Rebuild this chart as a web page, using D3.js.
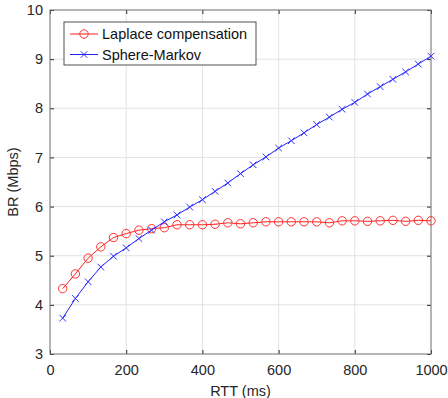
<!DOCTYPE html>
<html>
<head>
<meta charset="utf-8">
<script src="https://cdn.jsdelivr.net/npm/d3@7"></script>
<style>
  body { margin: 0; background: #fff; }
  svg { display: block; font-family: "Liberation Sans", Arial, sans-serif; }
</style>
</head>
<body>
<div id="chart"></div>
<script>
// RTT samples (ms) every 33.3 ms
const rtt = d3.range(1, 31).map(i => i * 1000 / 30);
const laplace = [4.33, 4.63, 4.95, 5.18, 5.37, 5.45, 5.52, 5.55, 5.57, 5.63,
  5.63, 5.63, 5.64, 5.67, 5.65, 5.67, 5.69, 5.69, 5.69, 5.69,
  5.69, 5.67, 5.71, 5.71, 5.70, 5.71, 5.72, 5.70, 5.72, 5.71];
const sphere = [3.73, 4.13, 4.47, 4.77, 4.99, 5.16, 5.35, 5.52, 5.69, 5.83,
  5.99, 6.14, 6.31, 6.48, 6.67, 6.85, 7.01, 7.19, 7.34, 7.50,
  7.67, 7.82, 7.98, 8.12, 8.29, 8.44, 8.59, 8.74, 8.90, 9.06];
const xTicks = [0, 200, 400, 600, 800, 1000];
const yTicks = [3, 4, 5, 6, 7, 8, 9, 10];
const seriesNames = ["Laplace compensation", "Sphere-Markov"];

const W = 448, H = 398;
const margin = { top: 10, right: 17, bottom: 44, left: 50 };
const width = W - margin.left - margin.right,
  height = H - margin.top - margin.bottom;
const fs = "14.5px";

const svg = d3.select("#chart").append("svg").attr("width", W).attr("height", H);
const g = svg.append("g").attr("transform", "translate(" + margin.left + "," + margin.top + ")");

const x = d3.scaleLinear().domain([0, 1000]).range([0, width]);
const y = d3.scaleLinear().domain([3, 10]).range([height, 0]);

// grid
g.selectAll(".gx").data(xTicks).enter().append("line")
  .attr("x1", d => x(d)).attr("x2", d => x(d)).attr("y1", 0).attr("y2", height)
  .attr("stroke", "#e3e3e3").attr("stroke-width", 1);
g.selectAll(".gy").data(yTicks).enter().append("line")
  .attr("y1", d => y(d)).attr("y2", d => y(d)).attr("x1", 0).attr("x2", width)
  .attr("stroke", "#e3e3e3").attr("stroke-width", 1);

// axes, ticks inward like matlab
const axisColor = "#262626";
const fmt = d3.format("d");
function styleAxis(sel) {
  sel.select(".domain").remove();
  sel.selectAll(".tick line").attr("stroke", axisColor);
  sel.selectAll(".tick text").attr("fill", axisColor).style("font-size", fs);
}
g.append("g").attr("transform", "translate(0," + height + ")")
  .call(d3.axisBottom(x).tickValues(xTicks).tickFormat(fmt).tickSizeInner(-4).tickSizeOuter(0).tickPadding(11))
  .call(styleAxis);
g.append("g")
  .call(d3.axisTop(x).tickValues(xTicks).tickSizeInner(-4).tickSizeOuter(0).tickFormat(""))
  .call(styleAxis);
g.append("g")
  .call(d3.axisLeft(y).tickValues(yTicks).tickFormat(fmt).tickSizeInner(-4).tickSizeOuter(0).tickPadding(7))
  .call(styleAxis);
g.append("g").attr("transform", "translate(" + width + ",0)")
  .call(d3.axisRight(y).tickValues(yTicks).tickSizeInner(-4).tickSizeOuter(0).tickFormat(""))
  .call(styleAxis);

g.append("rect").attr("width", width).attr("height", height)
  .attr("fill", "none").attr("stroke", "#7a7a7a").attr("stroke-width", 1);

// labels
g.append("text").attr("x", width / 2).attr("y", height + 42)
  .attr("text-anchor", "middle").attr("fill", axisColor).style("font-size", fs)
  .text("RTT (ms)");
svg.append("text")
  .attr("transform", "translate(18," + (margin.top + height / 2) + ") rotate(-90)")
  .attr("text-anchor", "middle").attr("fill", axisColor).style("font-size", fs)
  .text("BR (Mbps)");

// lines
const line = d3.line().x(d => x(d[0])).y(d => y(d[1]));
const redData = rtt.map((r, i) => [r, laplace[i]]);
const blueData = rtt.map((r, i) => [r, sphere[i]]);

g.append("path").datum(redData).attr("d", line)
  .attr("fill", "none").attr("stroke", "#ff2020").attr("stroke-width", 1);
g.selectAll(".circ").data(redData).enter().append("circle")
  .attr("cx", d => x(d[0])).attr("cy", d => y(d[1])).attr("r", 4.2)
  .attr("fill", "none").attr("stroke", "#ff3030").attr("stroke-width", 1);

g.append("path").datum(blueData).attr("d", line)
  .attr("fill", "none").attr("stroke", "#2020ff").attr("stroke-width", 1);
const cross = d3.symbol().type(d3.symbolX).size(30);
g.selectAll(".cross").data(blueData).enter().append("path")
  .attr("d", cross).attr("transform", d => "translate(" + x(d[0]) + "," + y(d[1]) + ")")
  .attr("fill", "none").attr("stroke", "#3030ff").attr("stroke-width", 1);

// legend
const lg = svg.append("g").attr("transform", "translate(64,22)");
lg.append("rect").attr("width", 192).attr("height", 43)
  .attr("fill", "#fff").attr("stroke", "#262626").attr("stroke-width", 0.8);
seriesNames.forEach((name, i) => {
  const cy = 12 + i * 20.5;
  const col = i == 0 ? "#ff2020" : "#2020ff";
  lg.append("line").attr("x1", 6).attr("x2", 34).attr("y1", cy).attr("y2", cy)
    .attr("stroke", col).attr("stroke-width", 1);
  if (i == 0) {
    lg.append("circle").attr("cx", 20).attr("cy", cy).attr("r", 4.2)
      .attr("fill", "none").attr("stroke", "#ff3030");
  } else {
    lg.append("path").attr("d", cross).attr("transform", "translate(20," + cy + ")")
      .attr("fill", "none").attr("stroke", "#3030ff");
  }
  lg.append("text").attr("x", 38).attr("y", cy + 5)
    .attr("fill", "#111").style("font-size", fs).text(name);
});
</script>
</body>
</html>
